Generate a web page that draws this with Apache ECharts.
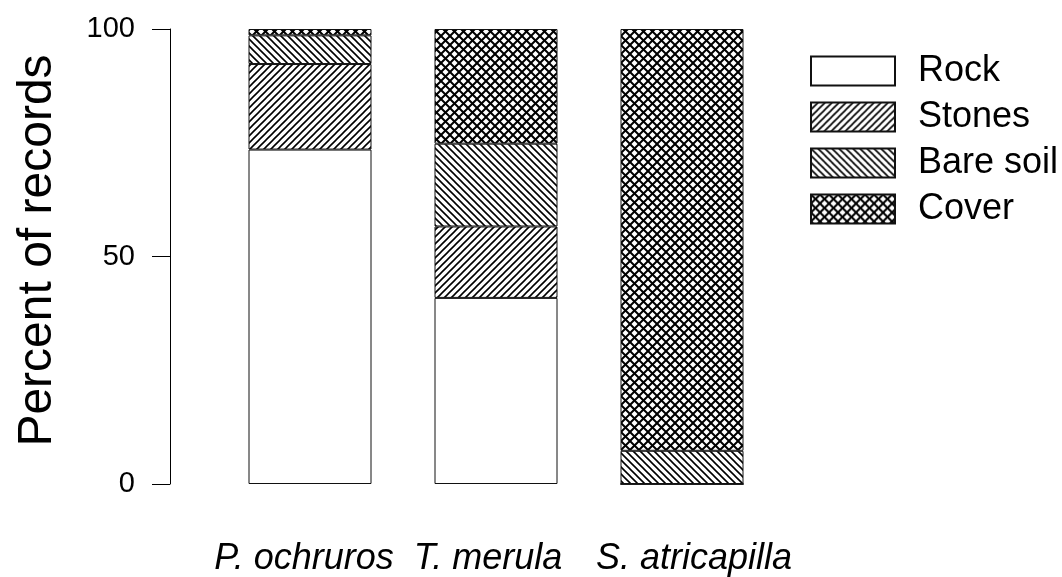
<!DOCTYPE html>
<html>
<head>
<meta charset="utf-8">
<script src="https://cdn.jsdelivr.net/npm/echarts@6/dist/echarts.min.js"></script>
<style>
html,body{margin:0;padding:0;background:#fff;}
#chart{width:1062px;height:577px;}
</style>
</head>
<body>
<div id="chart"></div>
<script>
var categories = ['P. ochruros', 'T. merula', 'S. atricapilla'];
var seriesNames = ['Rock', 'Stones', 'Bare soil', 'Cover'];
var rock     = [73.5, 40.9, 0];
var stones   = [18.8, 15.7, 0];
var bareSoil = [6.3, 18.2, 7.3];
var cover    = [1.4, 25.2, 92.7];

function makePattern(size, lw, dirs) {
  var c = document.createElement('canvas');
  c.width = size; c.height = size;
  var g = c.getContext('2d');
  g.fillStyle = '#fff';
  g.fillRect(0, 0, size, size);
  g.strokeStyle = '#000';
  g.lineWidth = lw;
  var p = size;
  dirs.forEach(function (d) {
    g.beginPath();
    if (d === '/') {
      g.moveTo(-p / 2, p / 2); g.lineTo(p / 2, -p / 2);
      g.moveTo(0, p); g.lineTo(p, 0);
      g.moveTo(p / 2, 3 * p / 2); g.lineTo(3 * p / 2, p / 2);
    } else {
      g.moveTo(-p / 2, p / 2); g.lineTo(p / 2, 3 * p / 2);
      g.moveTo(0, 0); g.lineTo(p, p);
      g.moveTo(p / 2, -p / 2); g.lineTo(3 * p / 2, p / 2);
    }
    g.stroke();
  });
  return { image: c, repeat: 'repeat' };
}

var fills = [
  '#ffffff',
  makePattern(7, 1.6, ['/']),
  makePattern(7, 1.6, ['\\']),
  makePattern(9, 2.0, ['/', '\\'])
];
var values = [rock, stones, bareSoil, cover];

var fontFam = "'Liberation Sans', Arial, Helvetica, sans-serif";
var shifts = [
  { padding: [0, 12, 0, 0] },
  { padding: [0, 16, 0, 0] },
  { padding: [0, 0, 0, 24] }
];
var rich = {};
shifts.forEach(function (s, i) {
  rich['s' + i] = {
    fontSize: 36, fontStyle: 'italic', fontFamily: fontFam, color: '#000',
    padding: s.padding
  };
});

var chart = echarts.init(document.getElementById('chart'), null, { renderer: 'canvas' });
chart.setOption({
  animation: false,
  backgroundColor: '#fff',
  grid: { left: 217, right: 287, top: 29, bottom: 90, containLabel: false },
  legend: {
    orient: 'vertical',
    left: 810,
    top: 53,
    padding: 0,
    itemWidth: 84,
    itemHeight: 29,
    itemGap: 10,
    icon: 'rect',
    data: seriesNames,
    textStyle: { fontSize: 36, fontFamily: fontFam, color: '#000', padding: [0, 0, 0, 18] }
  },
  xAxis: {
    type: 'category',
    data: categories,
    axisLine: { show: false },
    axisTick: { show: false },
    splitLine: { show: false },
    axisLabel: {
      margin: 57,
      interval: 0,
      formatter: function (v, i) { return '{s' + i + '|' + v + '}'; },
      rich: rich
    }
  },
  yAxis: {
    type: 'value',
    min: 0,
    max: 100,
    interval: 50,
    offset: 47,
    name: 'Percent of records',
    nameLocation: 'middle',
    nameGap: 108,
    nameTextStyle: { fontSize: 48, fontFamily: fontFam, color: '#000', padding: [0, 0, 0, 12] },
    axisLine: { show: true, lineStyle: { color: '#000', width: 1 } },
    axisTick: { show: true, length: 18, lineStyle: { color: '#000', width: 1 } },
    splitLine: { show: false },
    axisLabel: { margin: 35, fontSize: 29, fontFamily: fontFam, color: '#000' }
  },
  series: seriesNames.map(function (name, k) {
    return {
      name: name,
      type: 'bar',
      stack: 'total',
      barWidth: 123,
      data: values[k],
      itemStyle: { color: fills[k], borderColor: '#111', borderWidth: 1 },
      emphasis: { disabled: true }
    };
  })
});
</script>
</body>
</html>
